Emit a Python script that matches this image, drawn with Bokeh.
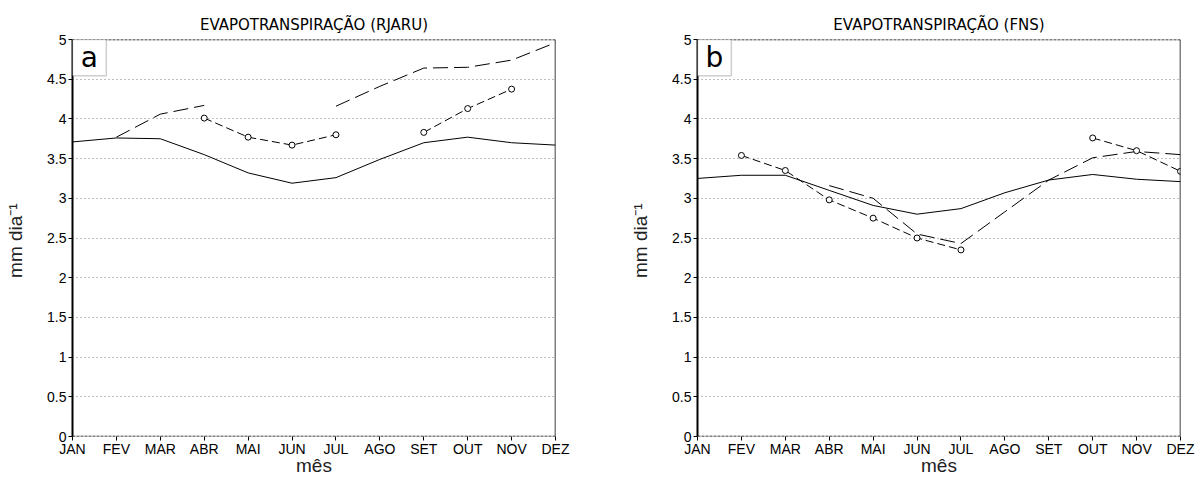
import math
from bokeh.plotting import figure
from bokeh.layouts import row
from bokeh.models import FixedTicker, Range1d, Span, BoxAnnotation, Label
from bokeh.embed import file_html
from bokeh.resources import INLINE

nan = float("nan")
months = ["JAN", "FEV", "MAR", "ABR", "MAI", "JUN", "JUL", "AGO", "SET", "OUT", "NOV", "DEZ"]
month_pos = list(range(1, 13))
y_ticks = [0, 0.5, 1, 1.5, 2, 2.5, 3, 3.5, 4, 4.5, 5]
y_tick_labels = ["0", "0.5", "1", "1.5", "2", "2.5", "3", "3.5", "4", "4.5", "5"]

rjaru_solid = [3.71, 3.76, 3.75, 3.55, 3.32, 3.19, 3.26, 3.49, 3.70, 3.77, 3.70, 3.67]
rjaru_dash = [nan, 3.77, 4.06, 4.17, nan, nan, 4.16, 4.41, 4.64, 4.65, 4.74, 4.96]
rjaru_circ = [nan, nan, nan, 4.01, 3.77, 3.67, 3.80, nan, 3.83, 4.13, 4.375, nan]

fns_solid = [3.25, 3.29, 3.29, 3.10, 2.91, 2.80, 2.87, 3.07, 3.23, 3.30, 3.24, 3.21]
fns_dash = [nan, nan, nan, 3.16, 3.00, 2.55, 2.43, 2.83, 3.23, 3.51, 3.59, 3.55]
fns_circ = [nan, 3.54, 3.35, 2.98, 2.75, 2.50, 2.35, nan, nan, 3.76, 3.60, 3.34]

FONT = "Liberation Sans"


def make_panel(title, letter, solid, dash, circ, border_left, border_right):
    p = figure(frame_width=483, frame_height=397, output_backend="svg",
               toolbar_location=None, x_range=Range1d(1, 12), y_range=Range1d(0, 5),
               min_border_left=border_left, min_border_right=border_right,
               min_border_top=39, min_border_bottom=40)
    p.title.text = title
    p.title.align = "center"
    p.title.vertical_align = "top"
    p.title.text_font = "DejaVu Sans"
    p.title.text_font_style = "normal"
    p.title.text_font_size = "15px"
    p.title.text_color = "black"
    p.title.standoff = 8
    p.outline_line_color = None
    p.background_fill_color = "white"
    p.border_fill_color = "white"

    p.xaxis.ticker = FixedTicker(ticks=month_pos)
    p.xaxis.major_label_overrides = {m: lab for m, lab in zip(month_pos, months)}
    p.yaxis.ticker = FixedTicker(ticks=y_ticks)
    p.yaxis.major_label_overrides = {t: lab for t, lab in zip(y_ticks, y_tick_labels)}
    for ax in (p.xaxis, p.yaxis):
        ax.major_label_text_font = FONT
        ax.major_label_text_font_size = "14px"
        ax.major_label_text_color = "black"
        ax.axis_label_text_font = FONT
        ax.axis_label_text_font_style = "normal"
        ax.axis_label_text_color = "#222222"
        ax.axis_label_text_font_size = "19px"
        ax.minor_tick_line_color = None
        ax.major_tick_out = 4
        ax.major_tick_in = 0
        ax.major_tick_line_color = "black"
    p.xaxis.axis_line_color = None
    p.xaxis.major_label_standoff = 0
    p.xaxis.axis_label = "mês"
    p.xaxis.axis_label_standoff = -5
    p.yaxis.axis_line_width = 2
    p.yaxis.axis_line_color = "black"
    p.yaxis.major_label_standoff = 2
    p.yaxis.axis_label = "mm  dia⁻¹"
    p.yaxis.axis_label_standoff = 18

    p.xgrid.grid_line_color = None
    p.ygrid.ticker = FixedTicker(ticks=[0.5, 1, 1.5, 2, 2.5, 3, 3.5, 4, 4.5])
    p.ygrid.grid_line_color = "#808080"
    p.ygrid.grid_line_dash = "1 3"
    p.ygrid.grid_line_width = 1

    p.add_layout(Span(location=5, dimension="width", line_color="black",
                      line_dash="3 1", line_width=1.5))
    p.add_layout(Span(location=0, dimension="width", line_color="black",
                      line_dash="3 1", line_width=1.5))
    p.add_layout(Span(location=12, dimension="height", line_color="black", line_width=1.5))

    p.line(month_pos, solid, line_color="black", line_width=1)
    p.line(month_pos, dash, line_color="black", line_width=1, line_dash="15 6")
    p.line(month_pos, circ, line_color="black", line_width=1, line_dash="8 4")
    p.scatter(month_pos, circ, marker="circle", size=6, fill_color="white",
              line_color="black", line_width=1)

    p.add_layout(BoxAnnotation(left=1, right=1.77, bottom=4.545, top=5,
                               fill_color="white", fill_alpha=1.0,
                               line_color="#606060", line_width=1.5))
    p.add_layout(Label(x=1.385, y=4.77, text=letter, text_align="center",
                       text_baseline="middle", text_font="DejaVu Sans",
                       text_font_size="28px", text_color="black"))
    return p


p1 = make_panel("EVAPOTRANSPIRAÇÃO (RJARU)", "a", rjaru_solid, rjaru_dash, rjaru_circ, 72, 45)
p2 = make_panel("EVAPOTRANSPIRAÇÃO (FNS)", "b", fns_solid, fns_dash, fns_circ, 97, 16)

layout = row(p1, p2)
open("out.html", "w").write(file_html(layout, INLINE))
